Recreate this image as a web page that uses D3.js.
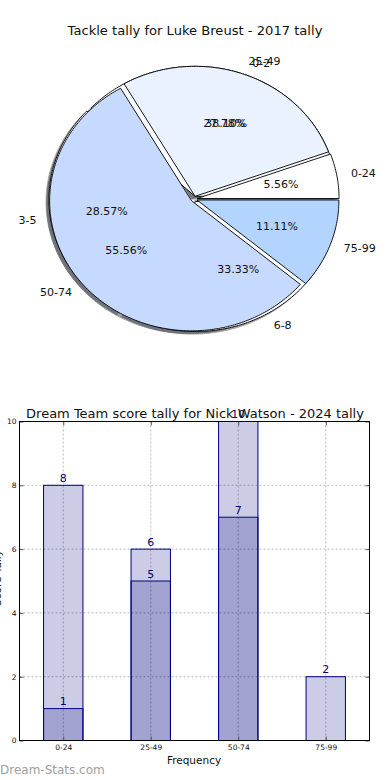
<!DOCTYPE html>
<html><head><meta charset="utf-8">
<script src="https://cdn.jsdelivr.net/npm/d3@7"></script>
<style>body{margin:0;background:#fff} svg{display:block} text{font-family:"DejaVu Sans",sans-serif}</style>
</head><body><svg id="c" width="390" height="780"></svg>
<script>
// ---- data ----
const tackleLabels = ["0-2", "3-5", "6-8"];
const tackleValues = [8, 6, 7];
const scoreLabels = ["0-24", "25-49", "50-74", "75-99"];
const scoreValues = [1, 5, 10, 2];
const scoreColors = ["#ffffff", "#eaf1ff", "#c6d9ff", "#b3d4ff"];
const tackleColors = ["#ffffff", "#ffffff", "#ffffff"];
const yTicks = [0, 2, 4, 6, 8, 10];
const pieTitle = "Tackle tally for Luke Breust - 2017 tally";
const barTitle = "Dream Team score tally for Nick Watson - 2024 tally";
const xLabel = "Frequency";
const yLabel = "Score Tally";
const watermark = "Dream-Stats.com";

const svg = d3.select("#c");

// ---- pie(s) ----
const px = d3.scaleLinear().domain([-1, 1]).range([194 - 142, 194 + 142]);
const py = d3.scaleLinear().domain([-1, 1]).range([199 + 130, 199 - 130]);
const explode = 0.022;
const pieGen = d3.pie().sort(null).startAngle(0).endAngle(2 * Math.PI);

const gShadow = svg.append("g");
const gPie1 = svg.append("g");
const gPie2 = svg.append("g");
const gPieText = svg.append("g");

function wedgePath(a0, a1, ox, oy) {
  const n = Math.max(10, Math.ceil((a1 - a0) * 60));
  const pts = [[px(ox), py(oy)]];
  for (let i = 0; i <= n; i++) {
    const a = a0 + (a1 - a0) * i / n;
    pts.push([px(ox + Math.cos(a)), py(oy + Math.sin(a))]);
  }
  return d3.line()(pts) + "Z";
}

function drawPie(values, labels, colors, layer) {
  const arcs = pieGen(values);
  const total = d3.sum(values);
  arcs.forEach((d, i) => {
    const mid = (d.startAngle + d.endAngle) / 2;
    const ox = explode * Math.cos(mid), oy = explode * Math.sin(mid);
    const c = d3.rgb(colors[i]);
    const sc = d3.rgb(c.r * 0.3, c.g * 0.3, c.b * 0.3);
    gShadow.append("path").attr("d", wedgePath(d.startAngle, d.endAngle, ox - 0.02, oy - 0.02))
      .attr("fill", sc).attr("stroke", sc).attr("opacity", 0.5);
    layer.append("path").attr("d", wedgePath(d.startAngle, d.endAngle, ox, oy))
      .attr("fill", colors[i]).attr("stroke", "#000").attr("stroke-width", 0.9).attr("stroke-linejoin", "miter");
    const cx = Math.cos(mid);
    gPieText.append("text")
      .attr("x", px(ox + 1.1 * cx)).attr("y", py(oy + 1.1 * Math.sin(mid)))
      .attr("text-anchor", cx > 0 ? "start" : "end").attr("dominant-baseline", "central")
      .attr("font-size", 11).attr("fill", "#111").text(labels[i]);
    gPieText.append("text")
      .attr("x", px(ox + 0.6 * cx)).attr("y", py(oy + 0.6 * Math.sin(mid)))
      .attr("text-anchor", "middle").attr("dominant-baseline", "central")
      .attr("font-size", 11).attr("fill", "#111").text(d3.format(".2f")(d.value / total * 100) + "%");
  });
}
drawPie(tackleValues, tackleLabels, tackleColors, gPie1);
drawPie(scoreValues, scoreLabels, scoreColors, gPie2);

svg.append("text").attr("x", 195).attr("y", 35).attr("text-anchor", "middle")
  .attr("font-size", 13.1).attr("fill", "#111").text(pieTitle);

// ---- bars ----
const L = 19.5, R = 369.5, T = 421.5, B = 740.5;
const x = d3.scaleLinear().domain([0, 4]).range([L, R]);
const y = d3.scaleLinear().domain([0, 10]).range([B, T]);
const cats = scoreLabels.map((d, i) => i + 0.5);
const barW = 0.45;

const grid = svg.append("g").attr("stroke", "#b8b8b8").attr("stroke-dasharray", "2,2").attr("stroke-width", 1);
yTicks.forEach(t => grid.append("line").attr("x1", L).attr("x2", R).attr("y1", y(t)).attr("y2", y(t)));
cats.forEach(c => grid.append("line").attr("x1", x(c)).attr("x2", x(c)).attr("y1", T).attr("y2", B));

const bars = svg.append("g");
function drawBars(vals) {
  vals.forEach((v, i) => {
    bars.append("rect").attr("x", x(i + 0.5 - barW / 2)).attr("y", y(v))
      .attr("width", x(barW) - x(0)).attr("height", y(0) - y(v))
      .attr("fill", "navy").attr("fill-opacity", 0.2).attr("stroke", "navy").attr("stroke-width", 1);
  });
}
drawBars(tackleValues);
drawBars(scoreValues);

const labs = svg.append("g");
function drawLabels(vals) {
  vals.forEach((v, i) => {
    labs.append("text").attr("x", x(i + 0.5)).attr("y", y(v) - 3.5).attr("text-anchor", "middle")
      .attr("font-size", 11).attr("fill", "navy").text(v);
  });
}
drawLabels(tackleValues);
drawLabels(scoreValues);

// axes
const axFont = g => g.selectAll("text").attr("font-family", "DejaVu Sans").attr("font-size", 7.5).attr("fill", "#111");
svg.append("g").attr("transform", `translate(${L},0)`)
  .call(d3.axisLeft(y).tickValues(yTicks).tickSize(-4).tickPadding(3).tickFormat(d3.format("d")))
  .call(axFont).call(g => g.select(".domain").remove()).call(g => g.selectAll("line").attr("stroke", "#555"));
svg.append("g").attr("transform", `translate(${R},0)`)
  .call(d3.axisRight(y).tickValues(yTicks).tickSize(-4).tickFormat(""))
  .call(g => g.select(".domain").remove()).call(g => g.selectAll("line").attr("stroke", "#555"));
svg.append("g").attr("transform", `translate(0,${B})`)
  .call(d3.axisBottom(x).tickValues(cats).tickSize(-4).tickPadding(4).tickFormat((d, i) => scoreLabels[i]))
  .call(axFont).call(g => g.select(".domain").remove()).call(g => g.selectAll("line").attr("stroke", "#555"));
svg.append("g").attr("transform", `translate(0,${T})`)
  .call(d3.axisTop(x).tickValues(cats).tickSize(-4).tickFormat(""))
  .call(g => g.select(".domain").remove()).call(g => g.selectAll("line").attr("stroke", "#555"));
svg.append("rect").attr("x", L).attr("y", T).attr("width", R - L).attr("height", B - T)
  .attr("fill", "none").attr("stroke", "#000").attr("stroke-width", 1);

svg.append("text").attr("x", 195).attr("y", 418).attr("text-anchor", "middle")
  .attr("font-size", 13).attr("fill", "#111").text(barTitle);
svg.append("text").attr("x", 194).attr("y", 764).attr("text-anchor", "middle")
  .attr("font-size", 10.5).attr("fill", "#111").text(xLabel);
svg.append("text").attr("transform", "translate(0.5,578) rotate(-90)").attr("text-anchor", "middle")
  .attr("font-size", 10.5).attr("fill", "#111").text(yLabel);
svg.append("text").attr("x", 0).attr("y", 774).attr("font-size", 12).attr("fill", "#a0a0a0").text(watermark);
</script></body></html>
